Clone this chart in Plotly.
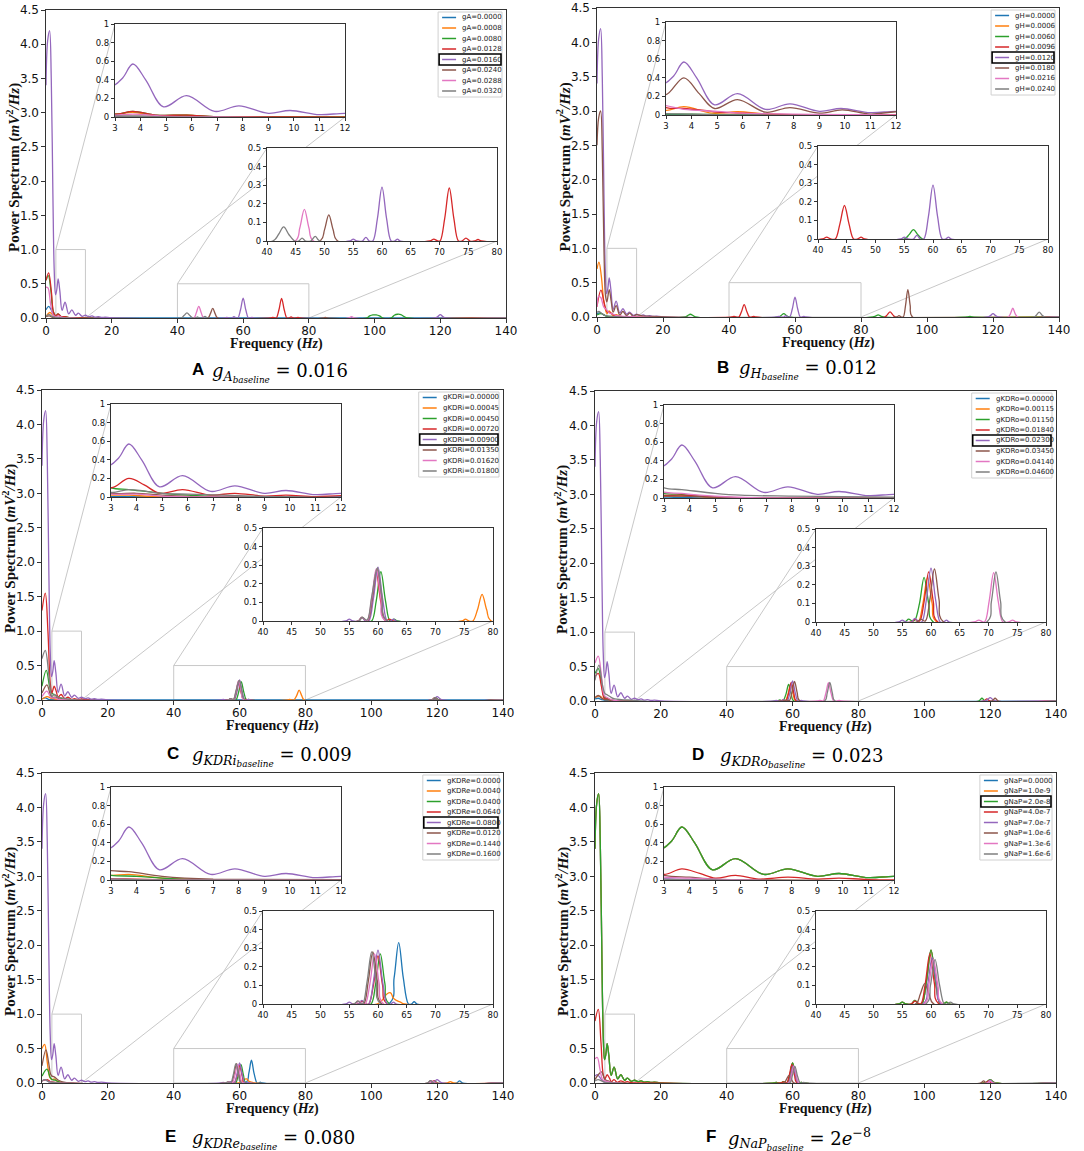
import plotly.graph_objects as go

W, H = 1084, 1151

COLORS = ["#1f77b4", "#ff7f0e", "#2ca02c", "#d62728",
          "#9467bd", "#8c564b", "#e377c2", "#7f7f7f"]

# baseline spectrum, the same simulation shows up in every panel
BASE_F = [0, 0.5, 1.1, 1.6, 2.1, 2.5, 2.9, 3.3, 3.7, 4.2, 4.9, 5.8, 6.9, 7.85, 9.0, 9.85,
          11.0, 12.0, 13.0, 14.0, 15.0, 16.0, 17.0, 18.0, 20.0, 54.4, 55.0, 55.6, 56.6,
          57.2, 57.8, 58.4, 59.2, 60.0, 60.8, 61.6, 62.2, 62.7, 63.2, 118.4, 119.2, 120.0,
          120.8, 121.6, 140]
BASE_P = [3.4, 4.05, 4.2, 3.5, 1.8, 0.7, 0.34, 0.42, 0.57, 0.4, 0.11, 0.23, 0.06, 0.12, 0.04, 0.07,
          0.025, 0.04, 0.02, 0.03, 0.012, 0.02, 0.008, 0.012, 0.003, 0, 0.01, 0, 0,
          0.02, 0, 0, 0.12, 0.29, 0.12, 0, 0, 0.01, 0, 0, 0.02, 0.05,
          0.02, 0, 0]

# ---- A : gA ----
A_LABELS = ["gA=0.0000", "gA=0.0008", "gA=0.0080", "gA=0.0128",
            "gA=0.0160", "gA=0.0240", "gA=0.0288", "gA=0.0320"]
A_FREQ = [
    [0, 0.8, 1.6, 2.4, 3.2, 4.5, 6, 140],
    [0, 1.2, 2.2, 3, 3.7, 4.6, 5.8, 7, 140],
    [0, 0.7, 1.5, 2.2, 3, 3.7, 4.6, 5.8, 7, 10, 97.5, 98.5, 99.5, 100.5, 101.5, 102.5,
     105, 106, 107, 108, 109, 110, 140],
    [0, 0.8, 1.6, 2.3, 3, 3.7, 4.6, 5.8, 7, 10, 68.3, 69, 69.7, 70.1, 70.9, 71.7, 72.5,
     73.3, 73.9, 74.6, 75.3, 76.1, 76.7, 77.3, 140],
    BASE_F,
    [0, 1, 2, 3, 4, 6, 49.2, 50, 50.75, 51.5, 52.3, 84.4, 85, 85.6, 140],
    [0, 0.6, 1.4, 2.2, 3, 3.7, 5, 7, 44.9, 45.7, 46.5, 47.3, 48.1, 92.2, 93, 93.8, 140],
    [0, 1, 2, 3, 5, 41, 42, 42.9, 43.8, 44.8, 45.5, 46.1, 46.7, 47.6, 48.4, 49.2, 140],
]
A_POWER = [
    [0.12, 0.17, 0.12, 0.04, 0.01, 0.005, 0, 0],
    [0.02, 0.08, 0.04, 0.03, 0.05, 0.015, 0.02, 0, 0],
    [0.55, 0.62, 0.4, 0.1, 0.03, 0.06, 0.02, 0.02, 0.005, 0, 0, 0.03, 0.045, 0.045, 0.03, 0,
     0, 0.04, 0.055, 0.05, 0.02, 0, 0],
    [0.55, 0.66, 0.4, 0.08, 0.03, 0.06, 0.02, 0.02, 0.005, 0, 0, 0.01, 0, 0, 0.12, 0.285, 0.12,
     0, 0, 0.015, 0, 0, 0.008, 0, 0],
    BASE_P,
    [0.02, 0.03, 0.01, 0.01, 0.01, 0, 0, 0.06, 0.14, 0.06, 0, 0, 0.01, 0, 0],
    [0.45, 0.44, 0.2, 0.04, 0.02, 0.03, 0.01, 0, 0, 0.07, 0.17, 0.07, 0, 0, 0.02, 0, 0],
    [0.03, 0.05, 0.02, 0.01, 0, 0, 0.035, 0.076, 0.035, 0, 0, 0.015, 0, 0, 0.025, 0, 0],
]

# ---- B : gH ----
B_LABELS = ["gH=0.0000", "gH=0.0006", "gH=0.0060", "gH=0.0096",
            "gH=0.0120", "gH=0.0180", "gH=0.0216", "gH=0.0240"]
B_FREQ = [
    [0, 1, 2, 3, 5, 140],
    [0, 0.6, 1.3, 2, 2.6, 3, 3.7, 4.8, 5.8, 7, 9, 140],
    [0, 1.3, 2.5, 3, 4, 6, 26.7, 27.5, 28.3, 29.1, 29.9, 55, 55.8, 56.6, 57.4, 58.2,
     83.6, 84.4, 85.2, 86, 86.8, 112.2, 113, 113.8, 140],
    [0, 1.2, 2.2, 3, 3.7, 4.5, 5, 6, 7, 8, 40.8, 41.5, 42.2, 43, 43.8, 44.6, 45.4, 46.2,
     46.9, 47.5, 48.1, 87.2, 88, 88.8, 89.6, 90.4, 140],
    BASE_F,
    [0, 0.5, 1.1, 1.6, 2.1, 2.6, 3, 3.7, 4.3, 4.9, 5.8, 6.9, 7.85, 9, 9.9, 11, 12, 14, 16,
     20, 90.8, 91.5, 92.2, 92.8, 93.5, 94.2, 94.9, 95.6, 140],
    [0, 0.5, 1.2, 2, 3, 3.7, 5, 6, 8, 12, 124.5, 125.3, 126, 126.7, 127.5, 140],
    [0, 0.6, 1.5, 2.5, 4, 6, 132.4, 133.2, 134, 134.8, 135.6, 140],
]
B_POWER = [
    [0.05, 0.06, 0.03, 0.01, 0, 0],
    [0.7, 0.8, 0.6, 0.25, 0.1, 0.05, 0.09, 0.02, 0.035, 0.01, 0, 0],
    [0.03, 0.05, 0.02, 0.01, 0.01, 0, 0, 0.02, 0.04, 0.02, 0, 0, 0.022, 0.05, 0.022, 0,
     0, 0.014, 0.03, 0.014, 0, 0, 0.01, 0, 0],
    [0.15, 0.39, 0.2, 0.08, 0.07, 0.05, 0.03, 0.02, 0.01, 0.005, 0, 0.01, 0, 0, 0.08, 0.18, 0.08, 0,
     0, 0.01, 0, 0, 0.035, 0.075, 0.035, 0, 0],
    BASE_P,
    [2.5, 2.9, 3.0, 2.4, 1.0, 0.3, 0.22, 0.4, 0.23, 0.07, 0.165, 0.03, 0.08, 0.02, 0.055, 0.01, 0.035, 0.015, 0.01,
     0, 0, 0.02, 0, 0, 0.17, 0.4, 0.17, 0, 0],
    [0.15, 0.3, 0.28, 0.15, 0.1, 0.06, 0.04, 0.02, 0.01, 0, 0, 0.05, 0.13, 0.05, 0, 0],
    [0.07, 0.08, 0.05, 0.02, 0.01, 0, 0, 0.03, 0.07, 0.03, 0, 0],
]

# ---- C : gKDRi ----
C_LABELS = ["gKDRi=0.00000", "gKDRi=0.00045", "gKDRi=0.00450", "gKDRi=0.00720",
            "gKDRi=0.00900", "gKDRi=0.01350", "gKDRi=0.01620", "gKDRi=0.01800"]
C_FREQ = [
    [0, 1, 2, 3, 5, 140],
    [0, 1.5, 3, 3.7, 5, 74.6, 75.2, 75.8, 76.5, 77.3, 78.1, 78.9, 79.7, 140],
    [0, 1.3, 2.3, 3, 3.7, 5, 6, 8, 56.6, 57.3, 58, 58.9, 59.7, 60.5, 61.3, 62.1, 62.8, 63.4,
     118.5, 119.5, 120.5, 140],
    [0, 1, 1.8, 2.5, 3, 3.7, 4.3, 4.9, 5.8, 6.9, 7.85, 9, 9.85, 11, 12, 14, 56.5, 57.2, 58.1,
     58.9, 59.7, 60.5, 61.3, 62, 62.6, 118.2, 119.2, 120.2, 140],
    BASE_F,
    [0, 1.5, 2.5, 3, 4, 5, 7, 56.6, 57.2, 58.2, 59, 59.8, 60.6, 61.4, 118.5, 119.5, 120.5, 140],
    [0, 1.5, 2.5, 3, 4, 5, 7, 56.6, 57.2, 58.1, 58.9, 59.7, 60.5, 61.3, 140],
    [0, 1, 2, 2.6, 3, 3.7, 5, 6, 8, 10, 56.6, 57.2, 58.1, 58.9, 59.9, 60.7, 61.6, 118.3, 119.3,
     120.3, 140],
]
C_POWER = [
    [0.02, 0.03, 0.01, 0.005, 0, 0],
    [0.01, 0.05, 0.02, 0.02, 0, 0, 0.01, 0, 0, 0.06, 0.143, 0.06, 0, 0],
    [0.2, 0.43, 0.2, 0.1, 0.08, 0.04, 0.02, 0, 0, 0.02, 0, 0, 0.11, 0.265, 0.11, 0, 0.01, 0,
     0, 0.035, 0, 0],
    [1.3, 1.55, 1.0, 0.25, 0.1, 0.2, 0.13, 0.04, 0.08, 0.02, 0.04, 0.01, 0.02, 0.005, 0.015, 0, 0, 0.02, 0,
     0.1, 0.26, 0.1, 0, 0.01, 0, 0, 0.03, 0, 0],
    BASE_P,
    [0.1, 0.22, 0.08, 0.04, 0.04, 0.02, 0, 0, 0.02, 0, 0.12, 0.28, 0.12, 0, 0, 0.03, 0, 0],
    [0.05, 0.13, 0.05, 0.03, 0.03, 0.01, 0, 0, 0.02, 0, 0.12, 0.28, 0.12, 0, 0],
    [0.6, 0.72, 0.4, 0.12, 0.05, 0.08, 0.04, 0.03, 0.015, 0, 0, 0.02, 0.005, 0.13, 0.285, 0.13, 0, 0, 0.035,
     0, 0],
]

# ---- D : gKDRo ----
D_LABELS = ["gKDRo=0.00000", "gKDRo=0.00115", "gKDRo=0.01150", "gKDRo=0.01840",
            "gKDRo=0.02300", "gKDRo=0.03450", "gKDRo=0.04140", "gKDRo=0.04600"]
D_FREQ = [
    [0, 1, 2, 3, 5, 140],
    [0, 1.5, 2.5, 3, 3.7, 5, 7, 56.5, 57.2, 57.8, 58.6, 59.4, 60.2, 61, 140],
    [0, 1, 2, 2.8, 3.7, 5, 7, 55.4, 56.1, 56.8, 57.2, 58.0, 58.8, 59.6, 60.4, 116.5, 117.5,
     118.5, 140],
    [0, 1, 2, 2.8, 3.7, 5, 7, 56.6, 57.2, 58, 58.8, 59.6, 60.4, 61.2, 118, 119, 120, 140],
    BASE_F,
    [0, 1, 2, 3, 3.7, 5, 7, 57.5, 58.2, 59.0, 59.8, 60.6, 61.4, 62.2, 120.5, 121.5, 122.5, 140],
    [0, 1, 2, 2.8, 3.7, 5, 7, 67.5, 68.3, 69.3, 70.1, 70.9, 71.7, 72.5, 73.5, 74.2, 74.9, 140],
    [0, 1.2, 2.2, 3, 3.7, 5, 6, 8, 12, 14, 69.7, 70.5, 71.3, 72.1, 72.9, 140],
]
D_POWER = [
    [0.03, 0.04, 0.02, 0.01, 0, 0],
    [0.05, 0.07, 0.03, 0.02, 0.02, 0.01, 0, 0, 0.015, 0, 0.1, 0.24, 0.1, 0, 0],
    [0.4, 0.47, 0.25, 0.06, 0.04, 0.01, 0, 0, 0.015, 0.005, 0.01, 0.1, 0.24, 0.1, 0, 0, 0.04,
     0, 0],
    [0.35, 0.4, 0.2, 0.04, 0.03, 0.01, 0, 0, 0.015, 0.005, 0.11, 0.27, 0.11, 0, 0, 0.03, 0, 0],
    BASE_P,
    [0.05, 0.08, 0.04, 0.02, 0.02, 0.01, 0, 0, 0.015, 0.005, 0.12, 0.285, 0.12, 0, 0, 0.04, 0, 0],
    [0.55, 0.65, 0.35, 0.08, 0.05, 0.02, 0, 0, 0.01, 0, 0.11, 0.265, 0.11, 0, 0, 0.01, 0, 0],
    [0.3, 0.52, 0.25, 0.11, 0.09, 0.05, 0.03, 0.02, 0.01, 0, 0, 0.11, 0.27, 0.11, 0, 0],
]

# ---- E : gKDRe ----
E_LABELS = ["gKDRe=0.0000", "gKDRe=0.0040", "gKDRe=0.0400", "gKDRe=0.0640",
            "gKDRe=0.0800", "gKDRe=0.0120", "gKDRe=0.1440", "gKDRe=0.1600"]
E_FREQ = [
    [0, 1, 2, 3, 5, 61.9, 62.8, 63.6, 64.4, 65.3, 65.8, 66.3, 66.8, 125.8, 126.8, 127.8, 140],
    [0, 0.8, 1.6, 2.4, 3, 3.7, 5, 7, 59.8, 60.7, 61.6, 62.2, 62.7, 63.3, 63.9, 64.6, 123, 124,
     125, 140],
    [0, 1.5, 2.5, 3, 4, 5, 7, 56.5, 57.2, 57.9, 58.8, 59.6, 60.4, 61.2, 62, 118.2, 119.2, 120.2, 140],
    [0, 1.5, 2.5, 4, 6, 56.5, 57.2, 57.9, 58.4, 59.2, 60, 60.8, 61.6, 118, 119, 120, 140],
    BASE_F,
    [0, 1.2, 2, 2.6, 3, 3.7, 5, 7, 55.8, 56.5, 57.5, 58.3, 59.1, 59.9, 60.7, 117, 118, 119, 140],
    [0, 1, 2, 3, 5, 56, 56.7, 57.4, 57.8, 58.6, 59.4, 60.2, 61, 117.5, 118.5, 119.5, 140],
    [0, 1, 2, 3, 5, 55.8, 56.5, 57.3, 58.1, 58.9, 59.7, 60.5, 117, 118, 119, 140],
]
E_POWER = [
    [0.03, 0.05, 0.02, 0.01, 0, 0, 0.14, 0.33, 0.14, 0, 0, 0.012, 0, 0, 0.03, 0, 0],
    [0.5, 0.56, 0.3, 0.08, 0.05, 0.06, 0.02, 0, 0, 0.02, 0.055, 0.06, 0.03, 0.018, 0.01, 0, 0, 0.02,
     0, 0],
    [0.1, 0.2, 0.08, 0.05, 0.04, 0.02, 0, 0, 0.015, 0, 0, 0.11, 0.27, 0.11, 0, 0, 0.03, 0, 0],
    [0.03, 0.05, 0.02, 0.01, 0, 0, 0.015, 0, 0, 0.1, 0.26, 0.1, 0, 0, 0.03, 0, 0],
    BASE_P,
    [0.25, 0.48, 0.3, 0.13, 0.1, 0.09, 0.04, 0.01, 0, 0.015, 0, 0.12, 0.28, 0.12, 0, 0, 0.035, 0, 0],
    [0.03, 0.05, 0.02, 0.01, 0, 0, 0.015, 0, 0, 0.11, 0.27, 0.11, 0, 0, 0.03, 0, 0],
    [0.03, 0.05, 0.02, 0.01, 0, 0, 0.015, 0, 0.12, 0.28, 0.12, 0, 0, 0.035, 0, 0],
]

# ---- F : gNaP ----  (0 and 1e-9 sit exactly under the baseline curve)
F_LABELS = ["gNaP=0.0000", "gNaP=1.0e-9", "gNaP=2.0e-8", "gNaP=4.0e-7",
            "gNaP=7.0e-7", "gNaP=1.0e-6", "gNaP=1.3e-6", "gNaP=1.6e-6"]
F_FREQ = [
    BASE_F,
    BASE_F,
    BASE_F,
    [0, 1, 1.8, 2.5, 3, 3.7, 4.4, 5, 5.8, 6.7, 7.85, 9, 9.85, 11, 14, 56.5, 57.2, 58.2, 59,
     59.8, 60.6, 61.4, 118.5, 119.5, 120.5, 140],
    [0, 0.7, 1.5, 2.5, 3.5, 5, 58.6, 59.4, 60.2, 61, 61.8, 119, 120, 121, 140],
    [0, 1, 2, 3, 4, 5, 7, 57.3, 58.1, 58.9, 59.7, 60.5, 117, 118, 119, 140],
    [0, 0.7, 1.5, 2.3, 3, 4, 6, 58.8, 59.6, 60.4, 61.2, 62, 119, 120, 121, 140],
    [0, 1, 2, 3, 5, 59.1, 59.9, 60.7, 61.5, 62.3, 62.8, 63.4, 64, 140],
]
F_POWER = [
    BASE_P,
    BASE_P,
    BASE_P,
    [0.9, 1.07, 0.6, 0.12, 0.06, 0.12, 0.07, 0.02, 0.05, 0.01, 0.03, 0.01, 0.02, 0.005, 0, 0, 0.015, 0, 0.11,
     0.27, 0.11, 0, 0, 0.03, 0, 0],
    [0.1, 0.12, 0.08, 0.02, 0.01, 0, 0, 0.1, 0.25, 0.1, 0, 0, 0.04, 0, 0],
    [0.05, 0.12, 0.16, 0.05, 0.03, 0.01, 0, 0, 0.05, 0.11, 0.05, 0, 0, 0.03, 0, 0],
    [0.35, 0.37, 0.2, 0.05, 0.03, 0.02, 0, 0, 0.1, 0.24, 0.1, 0, 0, 0.03, 0, 0],
    [0.03, 0.05, 0.03, 0.01, 0, 0, 0.1, 0.24, 0.1, 0, 0, 0.01, 0, 0],
]

MAIN_XTICKS = [0, 20, 40, 60, 80, 100, 120, 140]
MAIN_YTICKS = [0.0, 0.5, 1.0, 1.5, 2.0, 2.5, 3.0, 3.5, 4.0, 4.5]
LOW_XTICKS = [3, 4, 5, 6, 7, 8, 9, 10, 11, 12]
LOW_YTICKS = [0, 0.2, 0.4, 0.6, 0.8, 1]
LOW_YTEXT = ["0", "0.2", "0.4", "0.6", "0.8", "1"]
MID_XTICKS = [40, 45, 50, 55, 60, 65, 70, 75, 80]
MID_YTICKS = [0, 0.1, 0.2, 0.3, 0.4, 0.5]
MID_YTEXT = ["0", "0.1", "0.2", "0.3", "0.4", "0.5"]

# caption pieces: letter, subscript of g, value
PANELS = [
    dict(letter="A", sub="A", value="0.016", labels=A_LABELS, freq=A_FREQ, power=A_POWER, base=4,
         box=(46, 506, 10, 318), cap=(190, 210, 370)),
    dict(letter="B", sub="H", value="0.012", labels=B_LABELS, freq=B_FREQ, power=B_POWER, base=4,
         box=(597, 1059, 8, 317), cap=(715, 737, 367)),
    dict(letter="C", sub="KDRi", value="0.009", labels=C_LABELS, freq=C_FREQ, power=C_POWER, base=4,
         box=(42, 503, 390, 700), cap=(165, 190, 753)),
    dict(letter="D", sub="KDRo", value="0.023", labels=D_LABELS, freq=D_FREQ, power=D_POWER, base=4,
         box=(595, 1056, 391, 701), cap=(690, 718, 754)),
    dict(letter="E", sub="KDRe", value="0.080", labels=E_LABELS, freq=E_FREQ, power=E_POWER, base=4,
         box=(42, 503, 773, 1083), cap=(163, 190, 1136)),
    dict(letter="F", sub="NaP", value="2<i>e</i><sup>−8</sup>", labels=F_LABELS, freq=F_FREQ,
         power=F_POWER, base=2, box=(595, 1056, 773, 1083), cap=(704, 726, 1136)),
]

for p in PANELS:
    for f, v in zip(p["freq"], p["power"]):
        assert len(f) == len(v), (p["letter"], len(f), len(v))


# pixels -> paper fractions
def pxx(x):
    return x / W


def pxy(y):
    return 1 - y / H


AXCOL = "#333333"
SERIF = "Liberation Serif"
SANS = "DejaVu Sans"

fig = go.Figure()
layout = {}
shapes = []
annos = []

for i, p in enumerate(PANELS):
    L, R, T, B = p["box"]
    subplots = [
        ((L, R, T, B), [0, 140], [0, 4.5], MAIN_XTICKS, MAIN_YTICKS,
         [f"{v:.1f}" for v in MAIN_YTICKS], 12),
        ((L + 69, L + 299, T + 14, T + 107), [3, 12], [0, 1], LOW_XTICKS, LOW_YTICKS, LOW_YTEXT, 8.5),
        ((L + 221, L + 451, T + 138, T + 231), [40, 80], [0, 0.5], MID_XTICKS, MID_YTICKS, MID_YTEXT, 8.5),
    ]
    for j, (bx, xr, yr, xt, yt, ytt, fs) in enumerate(subplots):
        n = 3 * i + j + 1
        s = "" if n == 1 else str(n)
        common = dict(showline=True, linecolor=AXCOL, linewidth=1.2, mirror=True, ticks="outside",
                      ticklen=3.5 if j == 0 else 3, tickcolor=AXCOL, showgrid=False, zeroline=False,
                      automargin=False, fixedrange=True,
                      tickfont=dict(family=SANS, size=fs, color="#111"))
        layout["xaxis" + s] = dict(common, domain=[pxx(bx[0]), pxx(bx[1])], range=xr, anchor="y" + s,
                                   tickvals=xt, ticklabelstandoff=-2 if j == 0 else 0)
        layout["yaxis" + s] = dict(common, domain=[pxy(bx[3]), pxy(bx[2])], range=yr, anchor="x" + s,
                                   tickvals=yt, ticktext=ytt)
        for k in range(8):
            fig.add_trace(go.Scatter(
                x=p["freq"][k], y=p["power"][k], mode="lines",
                line=dict(color=COLORS[k], width=1.3, shape="spline", smoothing=1.0),
                xaxis="x" + s, yaxis="y" + s, showlegend=False, hoverinfo="skip"))
        if j > 0:
            # zoom window marked on the main axes
            m = "" if 3 * i + 1 == 1 else str(3 * i + 1)
            shapes.append(dict(type="rect", xref="x" + m, yref="y" + m, x0=xr[0], x1=xr[1],
                               y0=yr[0], y1=yr[1], line=dict(color="#c8c8c8", width=1), layer="below"))

            # connector lines: upper-left and lower-right corners
            def mx(f):
                return L + f / 140 * (R - L)

            def my(v):
                return B - v / 4.5 * (B - T)

            for (fx, fy, ix, iy) in [(xr[0], yr[1], bx[0], bx[2]), (xr[1], yr[0], bx[1], bx[3])]:
                shapes.append(dict(type="line", xref="paper", yref="paper",
                                   x0=pxx(mx(fx)), y0=pxy(my(fy)), x1=pxx(ix), y1=pxy(iy),
                                   line=dict(color="#c8c8c8", width=1), layer="below"))

    # legend box
    labels = p["labels"]
    lw = 27 + 4.1 * len(labels[0])
    lx1 = R - 4
    lx0 = lx1 - lw
    ly0 = T + 2
    shapes.append(dict(type="rect", xref="paper", yref="paper", x0=pxx(lx0), x1=pxx(lx1),
                       y0=pxy(ly0), y1=pxy(ly0 + 85), fillcolor="white",
                       line=dict(color="#d0d0d0", width=1)))
    for k, lab in enumerate(labels):
        ry = T + 7.5 + 10.5 * k
        shapes.append(dict(type="line", xref="paper", yref="paper", x0=pxx(lx0 + 4), x1=pxx(lx0 + 18),
                           y0=pxy(ry), y1=pxy(ry), line=dict(color=COLORS[k], width=1.5)))
        annos.append(dict(x=pxx(lx0 + 22), y=pxy(ry), xref="paper", yref="paper", text=lab,
                          showarrow=False, xanchor="left", yanchor="middle",
                          font=dict(family=SANS, size=7, color="#222")))
        if k == p["base"]:
            shapes.append(dict(type="rect", xref="paper", yref="paper", x0=pxx(lx0 + 1), x1=pxx(lx1 - 1),
                               y0=pxy(ry - 5.5), y1=pxy(ry + 5.5), line=dict(color="black", width=1.6)))

    # axis titles
    annos.append(dict(x=pxx(L - 33), y=pxy((T + B) / 2 + 4), xref="paper", yref="paper",
                      text="<b>Power Spectrum (<i>mV</i><sup>2</sup><i>/Hz</i>)</b>", textangle=-90,
                      showarrow=False, xanchor="center", yanchor="middle",
                      font=dict(family=SERIF, size=15, color="#111")))
    annos.append(dict(x=pxx((L + R) / 2), y=pxy(B + 26), xref="paper", yref="paper",
                      text="<b>Frequency (<i>Hz</i>)</b>", showarrow=False,
                      xanchor="center", yanchor="middle",
                      font=dict(family=SERIF, size=14, color="#111")))

    # caption
    cx_letter, cx_math, cy = p["cap"]
    annos.append(dict(x=pxx(cx_letter), y=pxy(cy), xref="paper", yref="paper",
                      text="<b>" + p["letter"] + "</b>", showarrow=False,
                      xanchor="left", yanchor="middle",
                      font=dict(family="Liberation Sans", size=17, color="black")))
    annos.append(dict(x=pxx(cx_math), y=pxy(cy + 3), xref="paper", yref="paper",
                      text="<i>g</i><sub><i>" + p["sub"] + "</i><sub><i>baseline</i></sub></sub> = "
                           + p["value"],
                      showarrow=False, xanchor="left", yanchor="middle",
                      font=dict(family="DejaVu Serif", size=18, color="black")))

fig.update_layout(
    width=W, height=H,
    margin=dict(l=0, r=0, t=0, b=0),
    paper_bgcolor="white", plot_bgcolor="white",
    showlegend=False,
    shapes=shapes, annotations=annos,
    **layout,
)

# drop the browser's default body margin so the figure sits at the page origin
fig.write_html("out.html", config={"displayModeBar": False},
               post_script="document.body.style.margin = '0';")
